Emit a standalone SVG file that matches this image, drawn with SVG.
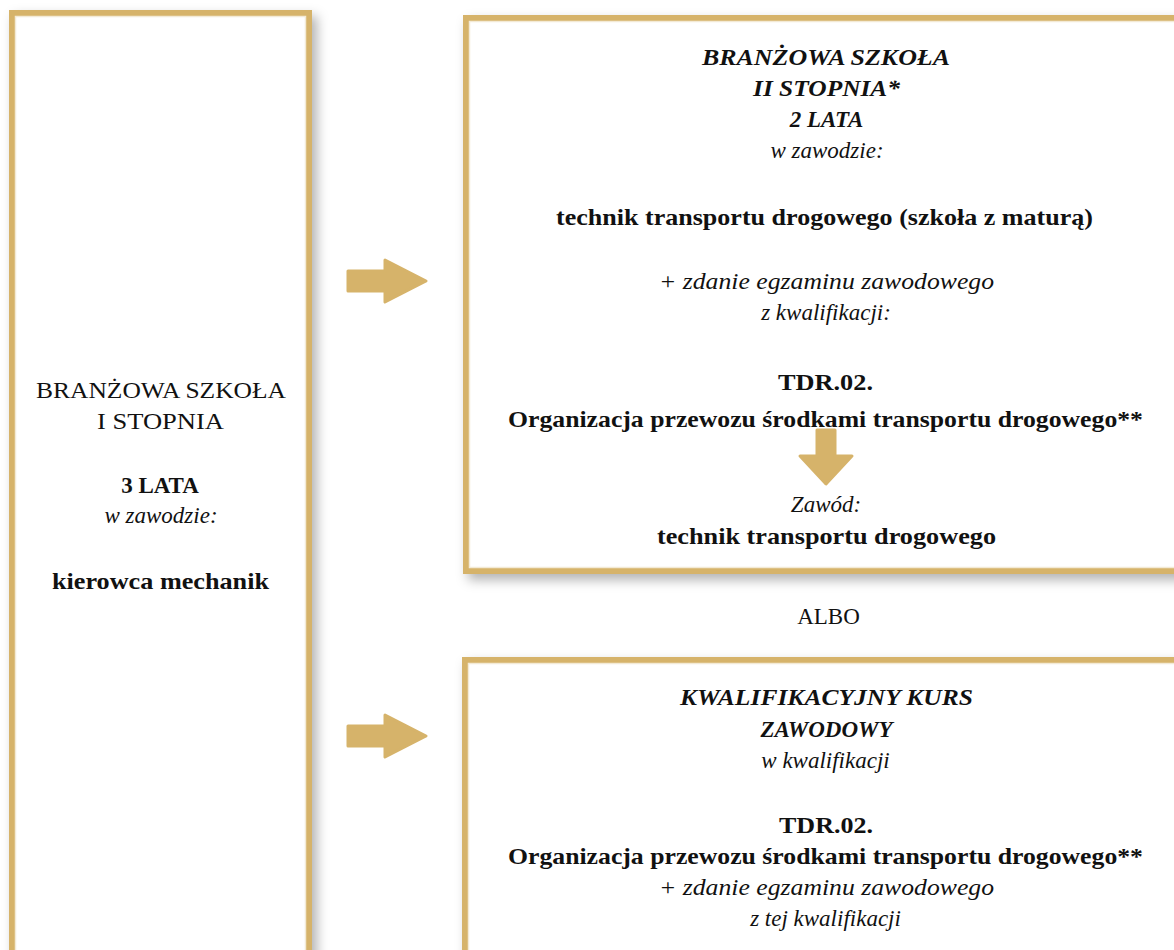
<svg xmlns="http://www.w3.org/2000/svg" width="1174" height="950" viewBox="0 0 1174 950">
<style>
.box{fill:#ffffff;stroke:#d6b36a;stroke-width:6}
.inner{fill:none;stroke:#f3ead6;stroke-width:1.5}
.arr{fill:#d6b36a;stroke:#d6b36a;stroke-width:3;stroke-linejoin:round}
text{font-family:"Liberation Serif","Times New Roman",serif;font-size:23px;fill:#111111;text-anchor:middle}
.b{font-weight:bold}
.i{font-style:italic}
.bi{font-weight:bold;font-style:italic}
</style>
<defs>
<filter id="sh" x="-10%" y="-10%" width="130%" height="130%">
<feDropShadow dx="5" dy="6" stdDeviation="6" flood-color="#000" flood-opacity="0.3"/>
</filter>
<path id="rarrow" d="M-32,-10 L5,-10 L5,-21 L46,0 L5,21 L5,10 L-32,10 Z"/>
</defs>
<g id="left-box">
<rect class="box" x="12" y="13" width="297" height="960" filter="url(#sh)"/>
<rect class="inner" x="15.5" y="16.5" width="290" height="960"/>
<text x="161" y="398" textLength="250" lengthAdjust="spacingAndGlyphs">BRANŻOWA SZKOŁA</text>
<text x="160.5" y="429" textLength="127" lengthAdjust="spacingAndGlyphs">I STOPNIA</text>
<text class="b" x="160" y="493">3 LATA</text>
<text class="i" x="161" y="523">w zawodzie:</text>
<text class="b" x="160.5" y="589" textLength="217" lengthAdjust="spacingAndGlyphs">kierowca mechanik</text>
</g>
<g id="top-box">
<rect class="box" x="466" y="18" width="730" height="553" filter="url(#sh)"/>
<rect class="inner" x="469.5" y="21.5" width="730" height="546"/>
<text class="bi" x="826" y="65" textLength="248" lengthAdjust="spacingAndGlyphs">BRANŻOWA SZKOŁA</text>
<text class="bi" x="826.5" y="96" textLength="147" lengthAdjust="spacingAndGlyphs">II STOPNIA*</text>
<text class="bi" x="826.5" y="127">2 LATA</text>
<text class="i" x="827" y="158">w zawodzie:</text>
<text class="b" x="824.5" y="225" textLength="537" lengthAdjust="spacingAndGlyphs">technik transportu drogowego (szkoła z maturą)</text>
<text class="i" x="826.5" y="289" textLength="335" lengthAdjust="spacingAndGlyphs">+ zdanie egzaminu zawodowego</text>
<text class="i" x="826" y="320">z kwalifikacji:</text>
<text class="b" x="825.5" y="390" textLength="95" lengthAdjust="spacingAndGlyphs">TDR.02.</text>
<text class="b" x="825.5" y="427" textLength="635" lengthAdjust="spacingAndGlyphs">Organizacja przewozu środkami transportu drogowego**</text>
<text class="i" x="826" y="512">Zawód:</text>
<text class="b" x="826.5" y="544" textLength="339" lengthAdjust="spacingAndGlyphs">technik transportu drogowego</text>
</g>
<g id="albo">
<text x="828.5" y="624">ALBO</text>
</g>
<g id="bottom-box">
<rect class="box" x="465" y="660" width="730" height="320" filter="url(#sh)"/>
<rect class="inner" x="468.5" y="663.5" width="730" height="320"/>
<text class="bi" x="826.5" y="705" textLength="293" lengthAdjust="spacingAndGlyphs">KWALIFIKACYJNY KURS</text>
<text class="bi" x="826.5" y="737">ZAWODOWY</text>
<text class="i" x="825.5" y="768">w kwalifikacji</text>
<text class="b" x="826" y="833" textLength="94" lengthAdjust="spacingAndGlyphs">TDR.02.</text>
<text class="b" x="825.5" y="864" textLength="635" lengthAdjust="spacingAndGlyphs">Organizacja przewozu środkami transportu drogowego**</text>
<text class="i" x="826.5" y="895" textLength="335" lengthAdjust="spacingAndGlyphs">+ zdanie egzaminu zawodowego</text>
<text class="i" x="825.5" y="926">z tej kwalifikacji</text>
</g>
<g id="connectors">
<use href="#rarrow" class="arr" x="380" y="281"/>
<use href="#rarrow" class="arr" x="380" y="736"/>
<path class="arr" d="M817,430 L835,430 L835,456 L852,456 L826,484 L800,456 L817,456 Z"/>
</g>
</svg>
